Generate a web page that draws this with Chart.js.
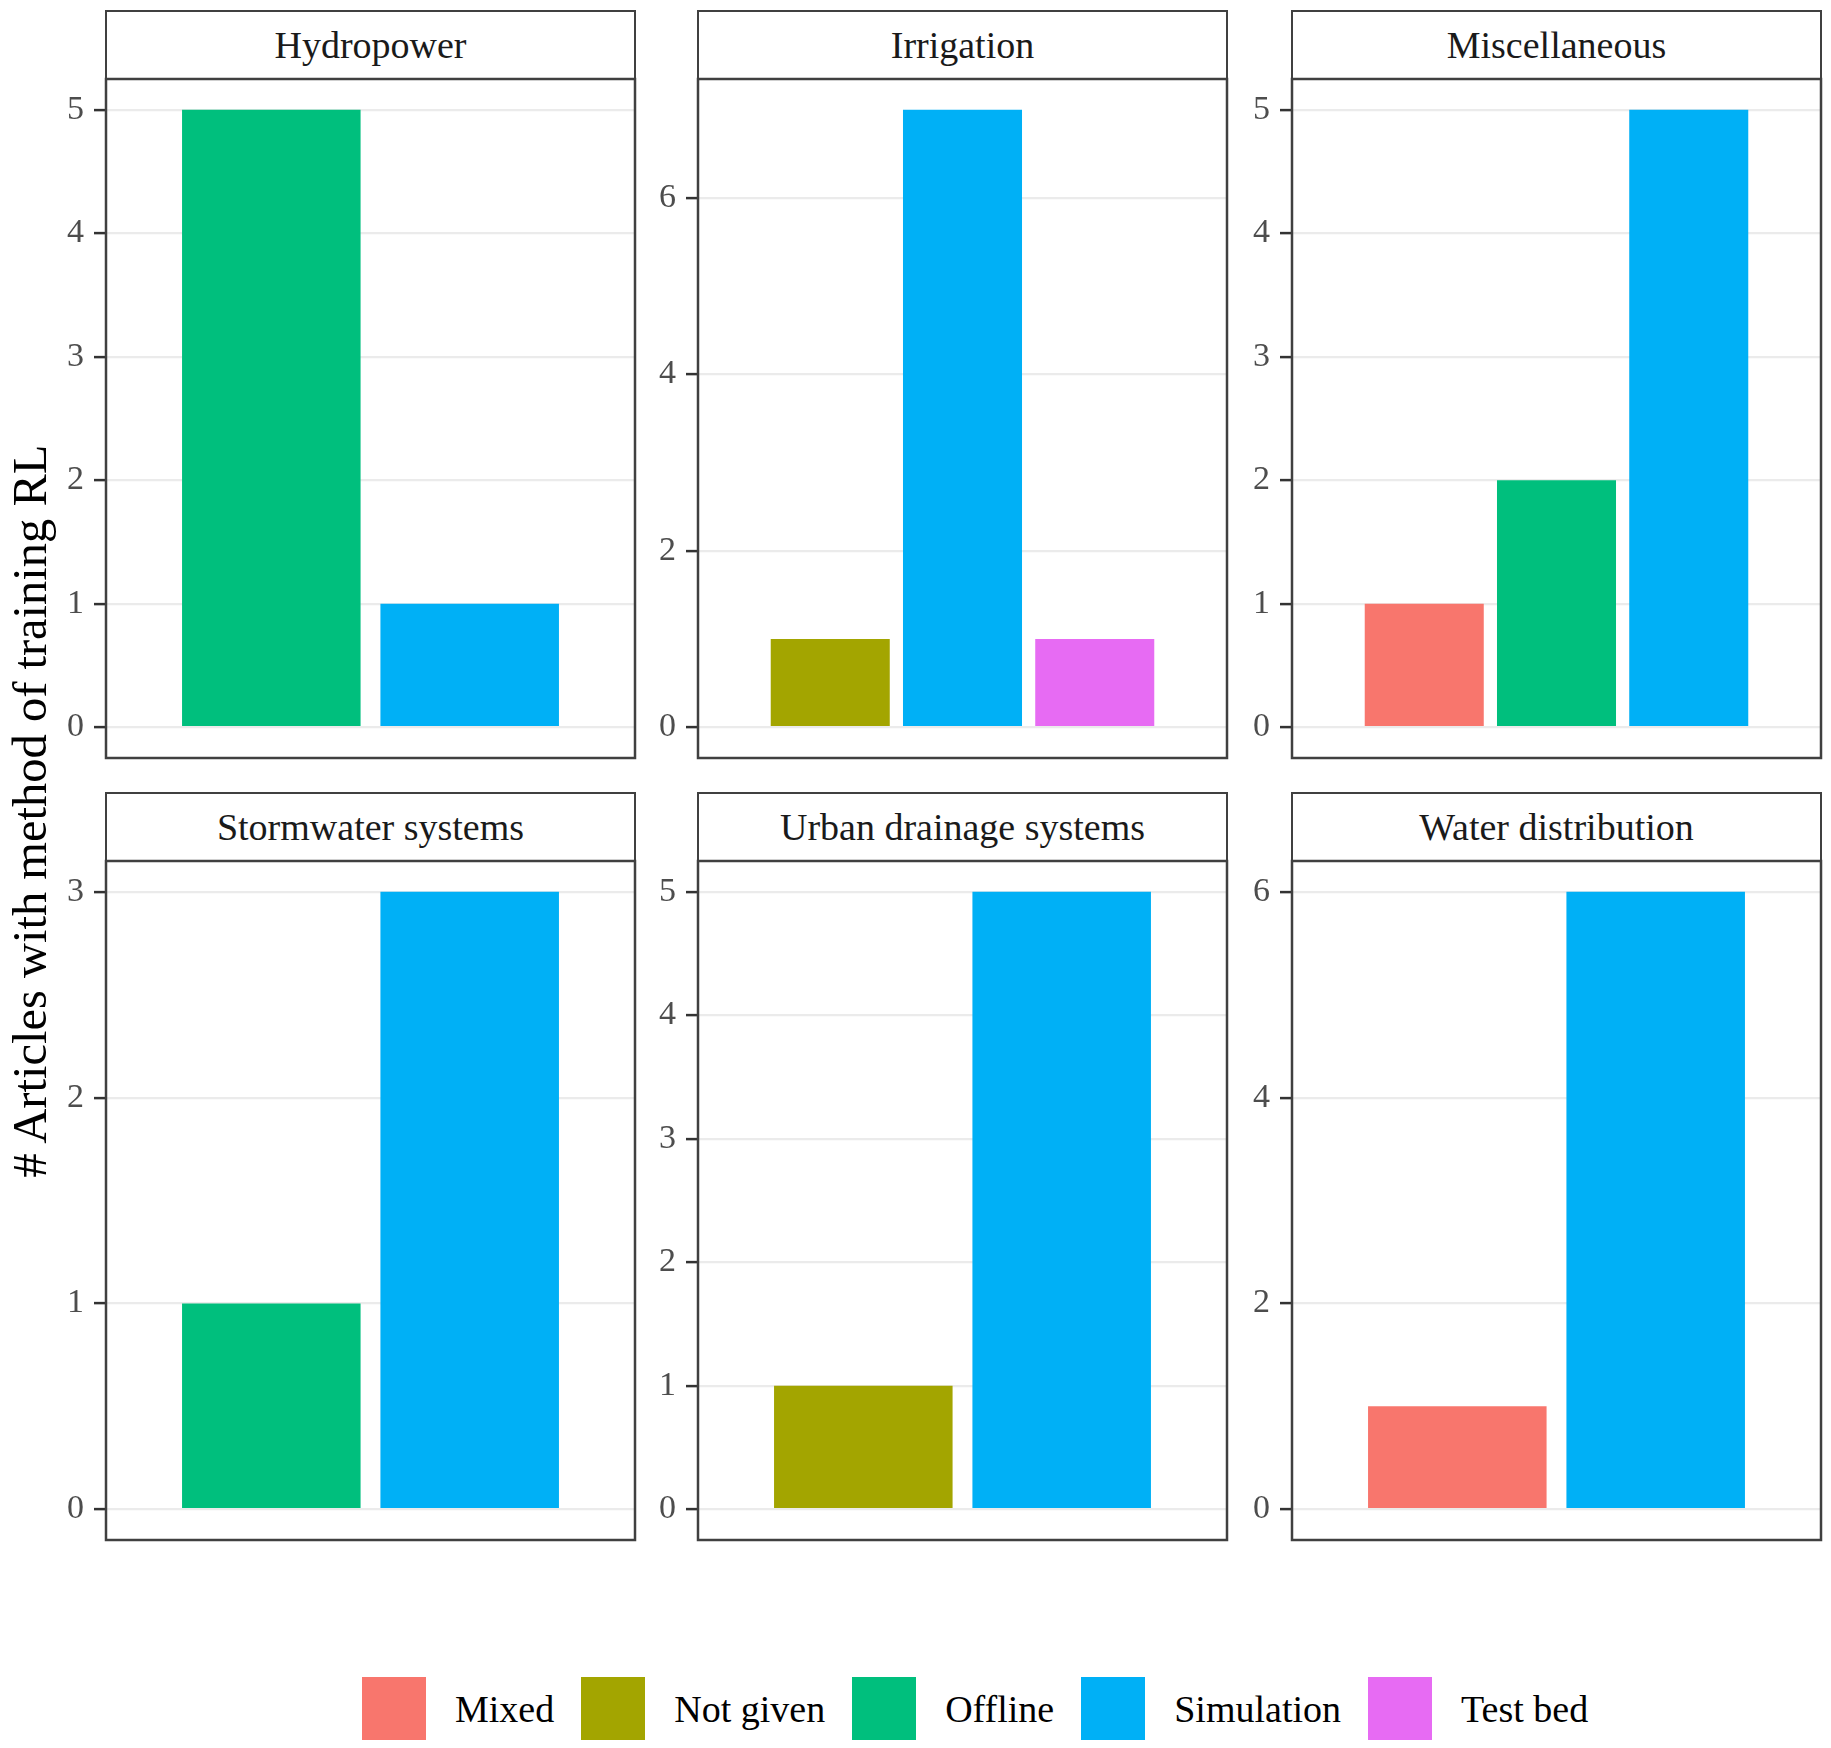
<!DOCTYPE html>
<html><head><meta charset="utf-8">
<script src="https://cdn.jsdelivr.net/npm/chart.js@4.4.1/dist/chart.umd.min.js"></script>
<style>
body{margin:0;background:#fff;width:1831px;height:1748px;position:relative;overflow:hidden;font-family:"Liberation Serif","Times New Roman",serif;}
.strip{position:absolute;box-sizing:border-box;border:2.5px solid #404040;background:#fff;color:#1a1a1a;font-size:38px;display:flex;align-items:center;justify-content:center;white-space:nowrap;}
canvas{position:absolute;}
#ytitle{position:absolute;font-size:48.5px;white-space:nowrap;transform:translate(-50%,-50%) rotate(-90deg);left:30px;top:811px;line-height:1;color:#000;}
#legend{position:absolute;left:362px;top:1677px;height:63px;display:flex;align-items:center;font-size:38px;color:#000;white-space:nowrap;}
.key{width:64px;height:63px;margin-right:29px;flex:none;}
.lab{margin-right:27px;}
</style></head><body>
<div id="ytitle"># Articles with method of training RL</div>
<div id="legend"></div>
<script>
// ---- data ----
const facetNames = ['Hydropower','Irrigation','Miscellaneous','Stormwater systems','Urban drainage systems','Water distribution'];
const methodNames = ['Mixed','Not given','Offline','Simulation','Test bed'];
const methodColors = ['#F8766D','#A3A500','#00BF7D','#00B0F6','#E76BF3'];

const hydropowerMethods = ['Offline','Simulation'];
const hydropowerCounts = [5,1];
const hydropowerTicks = [0,1,2,3,4,5];

const irrigationMethods = ['Not given','Simulation','Test bed'];
const irrigationCounts = [1,7,1];
const irrigationTicks = [0,2,4,6];

const miscellaneousMethods = ['Mixed','Offline','Simulation'];
const miscellaneousCounts = [1,2,5];
const miscellaneousTicks = [0,1,2,3,4,5];

const stormwaterMethods = ['Offline','Simulation'];
const stormwaterCounts = [1,3];
const stormwaterTicks = [0,1,2,3];

const urbanDrainageMethods = ['Not given','Simulation'];
const urbanDrainageCounts = [1,5];
const urbanDrainageTicks = [0,1,2,3,4,5];

const waterDistributionMethods = ['Mixed','Simulation'];
const waterDistributionCounts = [1,6];
const waterDistributionTicks = [0,2,4,6];

const panelMethods = [hydropowerMethods, irrigationMethods, miscellaneousMethods, stormwaterMethods, urbanDrainageMethods, waterDistributionMethods];
const panelCounts = [hydropowerCounts, irrigationCounts, miscellaneousCounts, stormwaterCounts, urbanDrainageCounts, waterDistributionCounts];
const panelTicks = [hydropowerTicks, irrigationTicks, miscellaneousTicks, stormwaterTicks, urbanDrainageTicks, waterDistributionTicks];

// ---- layout ----
const colLeft = [106, 698, 1292];
const panelW = 529;
const stripTop = [11, 793];
const stripH = 68;
const plotH = 679;
const FONT = '"Liberation Serif","Times New Roman",serif';

const borderPlugin = {
  id: 'panelBorder',
  afterDraw(chart) {
    const a = chart.chartArea, ctx = chart.ctx;
    ctx.save();
    ctx.strokeStyle = '#404040';
    ctx.lineWidth = 2.5;
    ctx.strokeRect(a.left, a.top, a.right - a.left, a.bottom - a.top);
    ctx.restore();
  }
};

facetNames.forEach((name, i) => {
  const col = i % 3, row = Math.floor(i / 3);
  const left = colLeft[col];
  const sTop = stripTop[row];
  const pTop = sTop + stripH;

  const strip = document.createElement('div');
  strip.className = 'strip';
  strip.style.left = (left - 1.25) + 'px';
  strip.style.top = (sTop - 1.25) + 'px';
  strip.style.width = (panelW + 2.5) + 'px';
  strip.style.height = (stripH + 2.5) + 'px';
  strip.textContent = name;
  document.body.appendChild(strip);

  const padL = 100, padR = 6, padV = 30;
  const cv = document.createElement('canvas');
  const cw = padL + panelW + padR, ch = plotH + 2 * padV;
  cv.width = cw; cv.height = ch;
  cv.style.width = cw + 'px'; cv.style.height = ch + 'px';
  cv.style.left = (left - padL) + 'px';
  cv.style.top = (pTop - padV) + 'px';
  document.body.appendChild(cv);

  const methods = panelMethods[i], counts = panelCounts[i], ticks = panelTicks[i];
  const n = methods.length;
  const ymax = Math.max(...counts);
  const center = (n + 1) / 2, half = 2 * n / 3;

  new Chart(cv, {
    type: 'bar',
    data: {
      datasets: [{
        data: counts.map((c, k) => ({x: k + 1, y: c})),
        backgroundColor: methods.map(m => methodColors[methodNames.indexOf(m)]),
        borderWidth: 0,
        barPercentage: 0.9,
        categoryPercentage: 1.0
      }]
    },
    options: {
      responsive: false,
      animation: false,
      devicePixelRatio: 1,
      layout: {padding: {left: 0, right: padR, top: padV, bottom: padV}},
      plugins: {legend: {display: false}, tooltip: {enabled: false}, title: {display: false}},
      scales: {
        x: {
          type: 'linear', display: false,
          min: center - half, max: center + half,
          afterBuildTicks: s => { s.ticks = []; }
        },
        y: {
          type: 'linear',
          min: -0.05 * ymax, max: 1.05 * ymax,
          afterBuildTicks: s => { s.ticks = ticks.map(v => ({value: v})); },
          afterFit: s => { s.width = padL; s.paddingTop = 0; s.paddingBottom = 0; },
          border: {display: false},
          grid: {color: '#ebebeb', lineWidth: 2.2, drawTicks: true, tickLength: 12, tickColor: '#333', tickWidth: 2.5},
          ticks: {font: {family: FONT, size: 34}, color: '#4d4d4d', padding: 10}
        }
      }
    },
    plugins: [borderPlugin]
  });
});

// ---- legend ----
const legend = document.getElementById('legend');
methodNames.forEach((m, k) => {
  const key = document.createElement('div');
  key.className = 'key';
  key.style.background = methodColors[k];
  const lab = document.createElement('div');
  lab.className = 'lab';
  lab.textContent = m;
  legend.appendChild(key);
  legend.appendChild(lab);
});
</script>
</body></html>
